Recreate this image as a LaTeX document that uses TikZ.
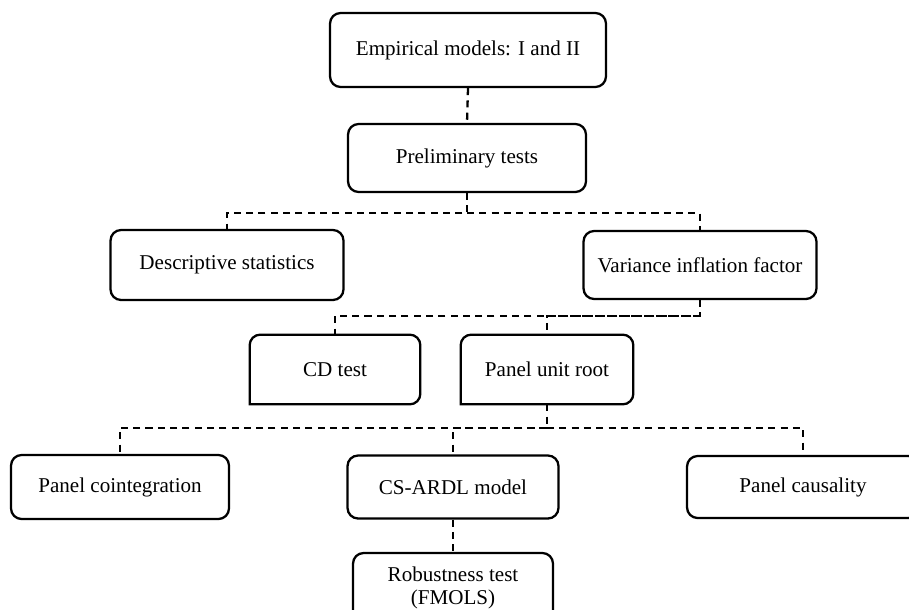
\documentclass[tikz,border=0pt]{standalone}
\usepackage{fontspec}
\setmainfont{Liberation Serif}
\usetikzlibrary{positioning,calc}
\tikzset{>=latex}
\tikzset{
    stepbox/.style={draw,line width=1.3pt,rounded corners=6pt,align=center,font=\fontsize{12}{13.5}\selectfont},
    plainbox/.style={align=center,font=\fontsize{12}{13.5}\selectfont},
    link/.style={line width=1.3pt,dash pattern=on 4pt off 3pt}
}

\begin{document}
\begin{tikzpicture}[x=0.02cm,y=-0.02cm]

    \useasboundingbox (0,0) rectangle (909,609);

    \def\xCentre{467}
    \def\xLeft{227}
    \def\xRight{700}
    \def\xCD{335}
    \def\xUnit{547}
    \def\xCoint{120}
    \def\xArdl{453}
    \def\xCaus{803}
    \def\yEmpirical{50}
    \def\yPrelim{158}
    \def\yDesc{265}
    \def\yTests{369.5}
    \def\yPanel{487}
    \def\yRobust{588}
    \def\yBusOne{213}
    \def\yBusTwo{316}
    \def\yBusThree{428}

    \node
        [stepbox,minimum width=5.52cm,minimum height=1.48cm]
        at (468,\yEmpirical)
        (empirical) {Empirical models: I and II};
    \node
        [stepbox,minimum width=4.76cm,minimum height=1.36cm]
        at (\xCentre,\yPrelim)
        (prelim) {Preliminary tests};
    \node
        [stepbox,minimum width=4.66cm,minimum height=1.4cm]
        at (\xLeft,\yDesc)
        (desc) {Descriptive statistics};
    \node
        [stepbox,minimum width=4.66cm,minimum height=1.36cm]
        at (\xRight,\yDesc)
        (vif) {Variance inflation factor};
    \node
        [plainbox,minimum width=3.4cm,minimum height=1.38cm]
        at (\xCD,\yTests)
        (cd) {CD test};
    \node
        [plainbox,minimum width=3.44cm,minimum height=1.38cm]
        at (\xUnit,\yTests)
        (unit) {Panel unit root};
    \node
        [stepbox,minimum width=4.36cm,minimum height=1.28cm]
        at (\xCoint,\yPanel)
        (coint) {Panel cointegration};
    \node
        [stepbox,minimum width=4.22cm,minimum height=1.26cm]
        at (\xArdl,\yPanel)
        (ardl) {CS-ARDL model};
    \node
        [stepbox,minimum width=4.64cm,minimum height=1.24cm]
        at (\xCaus,\yPanel)
        (caus) {Panel causality};
    \node
        [stepbox,minimum width=4cm,minimum height=1.4cm]
        at (\xArdl,\yRobust)
        (robust) {Robustness test\\(FMOLS)};

    % square bottom-left corners
    \draw[line width=1.3pt,line cap=rect,rounded corners=6pt]
        (cd.south west) -- (cd.north west) -- (cd.north east) -- (cd.south east) -- (cd.south west);
    \draw[line width=1.3pt,line cap=rect,rounded corners=6pt]
        (unit.south west) -- (unit.north west) -- (unit.north east) -- (unit.south east) -- (unit.south west);

    \coordinate (busOne) at (\xCentre,\yBusOne);
    \coordinate (busTwo) at (\xRight,\yBusTwo);
    \coordinate (busThree) at (\xUnit,\yBusThree);

    \draw[link] (empirical.south) -- (prelim.north);
    \draw[link] (prelim.south) -- (busOne) -| (desc.north);
    \draw[link] (busOne) -| (vif.north);
    \draw[link] (vif.south) -- (busTwo) -| (cd.north);
    \draw[link] (busTwo) -| (unit.north);
    \draw[link] (unit.south) -- (busThree) -| (coint.north);
    \draw[link] (busThree) -| (ardl.north);
    \draw[link] (busThree) -| (caus.north);
    \draw[link] (ardl.south) -- (robust.north);

\end{tikzpicture}
\end{document}
